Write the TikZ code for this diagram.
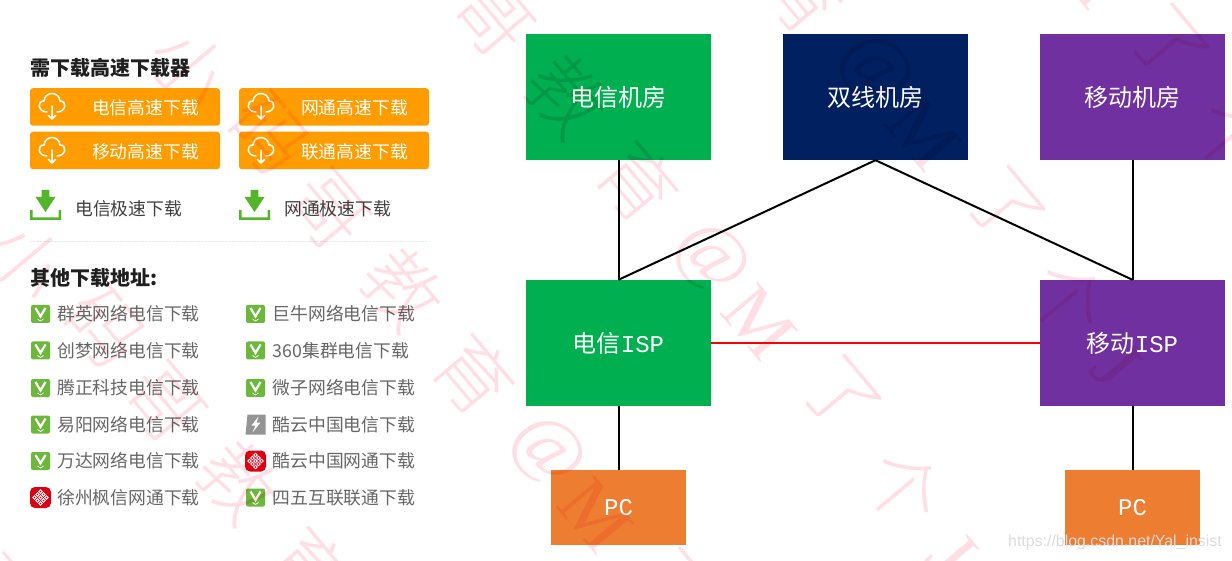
\documentclass[tikz,border=0pt]{standalone}
\usepackage{fontspec}
\usepackage{xcolor}
\usepackage{tikz}
\setmainfont{Noto Sans CJK SC}
\newfontfamily\ispfont{Liberation Mono}
\newfontfamily\urlfont{Liberation Sans}
\newfontfamily\stampcjk{Noto Sans CJK SC Light}
\newfontfamily\stamplat{Liberation Serif}
\definecolor{dxgreen}{HTML}{00B050}
\definecolor{sxnavy}{HTML}{002060}
\definecolor{ydpurple}{HTML}{7030A0}
\definecolor{pcorange}{HTML}{ED7D31}
\definecolor{btnorange}{HTML}{FF9C00}
\definecolor{dlgreen}{HTML}{52B52A}
\definecolor{vgreen}{HTML}{6CB83A}
\definecolor{knotred}{HTML}{DC0012}
\definecolor{stamppink}{HTML}{FFDFE5}
\tikzset{
  room/.style={draw=none,minimum width=185pt,minimum height=126pt,inner sep=0pt,text=white,font=\fontsize{24}{26}\selectfont},
  pcbox/.style={draw=none,fill=pcorange,minimum width=135pt,minimum height=75pt,inner sep=0pt,text=white,font=\fontsize{24}{26}\selectfont},
  btn/.style={fill=btnorange,rounded corners=3pt,minimum width=190pt,minimum height=37.5pt,inner sep=0pt},
  btntext/.style={text=white,inner sep=0pt,font=\fontsize{17.8}{20}\selectfont},
  heading/.style={anchor=west,inner sep=0pt,text=black!88,font=\fontsize{20}{22}\selectfont\bfseries},
  fasttext/.style={anchor=west,inner sep=0pt,text=black!75,font=\fontsize{17.8}{20}\selectfont},
  listtext/.style={anchor=west,inner sep=0pt,text=black!60,font=\fontsize{17.8}{20}\selectfont},
  link/.style={draw=black,line width=2pt},
  redlink/.style={draw=red,line width=2pt},
  stamp/.style={text=stamppink,inner sep=0pt,rotate=-50,font=\fontsize{76}{80}\selectfont},
  cloudicon/.pic={
    \draw[white,line width=1.5pt,line cap=round,line join=round]
      (-5,6) .. controls (-14,6) and (-15.5,-5) .. (-8,-5) .. controls (-7,-15) and (7,-15) .. (8,-5) .. controls (15.5,-5) and (14,6) .. (5,6)
      (0,0) -- (0,13) (-3.5,9.5) -- (0,13) -- (3.5,9.5);
  },
  fasticon/.pic={
    \fill[dlgreen] (-3.8,-15) -- (3.8,-15) -- (3.8,-8) -- (10,-8) -- (0,7) -- (-10,-8) -- (-3.8,-8) -- cycle;
    \fill[dlgreen] (-15.5,5) -- (-13,5) -- (-13,12.5) -- (13,12.5) -- (13,5) -- (15.5,5) -- (15.5,15) -- (-15.5,15) -- cycle;
  },
  vbadge/.pic={
    \fill[vgreen,rounded corners=2pt] (-9.5,-9) rectangle (9.5,9);
    \draw[white,line width=2.2pt] (-5,-6) -- (0,2.5) -- (5,-6);
    \draw[white,line width=.8pt] (-3,5) -- (0,7) -- (3,5);
  },
  greybadge/.pic={
    \fill[black!42] (-8,-10) -- (10,-10) -- (10,10) -- (-10,10) -- cycle;
    \fill[white] (3,-8) -- (-4,1) -- (0,1) -- (-3,8) -- (5,-2) -- (1,-2) -- cycle;
  },
  redbadge/.pic={
    \fill[knotred,rounded corners=5pt] (-10.5,-10.5) rectangle (10.5,10.5);
    \foreach \a/\b in {0/-6,-3/-3,3/-3,-6/0,0/0,6/0,-3/3,3/3,0/6}
      \draw[white,line width=.8pt] (\a,\b-1.8) -- (\a+1.8,\b) -- (\a,\b+1.8) -- (\a-1.8,\b) -- cycle;
  }
}
\begin{document}
\begin{tikzpicture}[x=1pt,y=-1pt]
  \useasboundingbox (0,0) rectangle (1232,561);
  % left panel
  \node[heading] (title1) at (30,68) {需下载高速下载器};
  \node[btn] (b1) at (125,107) {};
  \node[btn] (b2) at (334,107) {};
  \node[btn] (b3) at (125,150.5) {};
  \node[btn] (b4) at (334,150.5) {};
  \node[btntext] (t1) at (145.5,108) {电信高速下载};
  \node[btntext] (t2) at (354.5,108) {网通高速下载};
  \node[btntext] (t3) at (145.5,152) {移动高速下载};
  \node[btntext] (t4) at (354.5,152) {联通高速下载};
  \pic at (52,106) {cloudicon};
  \pic at (261,106) {cloudicon};
  \pic at (52,150) {cloudicon};
  \pic at (261,150) {cloudicon};
  \pic at (45.5,205) {fasticon};
  \pic at (254.5,205) {fasticon};
  \node[fasttext] (f1) at (75,209) {电信极速下载};
  \node[fasttext] (f2) at (284,209) {网通极速下载};
  \draw[black!8,densely dotted] (30,241) -- (430,241);
  \node[heading] (title2) at (30,278) {其他下载地址:};
  \foreach \ly/\ltext/\licon/\rtext/\ricon [count=\i] in {
    314/群英网络电信下载/vbadge/巨牛网络电信下载/vbadge,
    350.5/创梦网络电信下载/vbadge/360集群电信下载/vbadge,
    388/腾正科技电信下载/vbadge/微子网络电信下载/vbadge,
    424.5/易阳网络电信下载/vbadge/酷云中国电信下载/greybadge,
    461/万达网络电信下载/vbadge/酷云中国网通下载/redbadge,
    497.5/徐州枫信网通下载/redbadge/四五互联联通下载/vbadge} {
    \pic at (40.5,\ly) {\licon};
    \pic at (255.5,\ly) {\ricon};
    \node[listtext] (la\i) at (57,\ly) {\ltext};
    \node[listtext] (lb\i) at (272.5,\ly) {\rtext};
  }
  % right panel
  \node[room,fill=dxgreen] (dxroom) at (618.5,97) {电信机房};
  \node[room,fill=sxnavy] (sxroom) at (875.5,97) {双线机房};
  \node[room,fill=ydpurple] (ydroom) at (1132.5,97) {移动机房};
  \node[room,fill=dxgreen] (dxisp) at (618.5,343) {电信{\ispfont ISP}};
  \node[room,fill=ydpurple] (ydisp) at (1132.5,343) {移动{\ispfont ISP}};
  \node[pcbox] (pc1) at (618.5,507.5) {\ispfont PC};
  \node[pcbox] (pc2) at (1132.5,507.5) {\ispfont PC};
  \draw[link] (dxroom) -- (dxisp);
  \draw[link] (ydroom) -- (ydisp);
  \draw[link] (sxroom.south) -- (dxisp.north);
  \draw[link] (sxroom.south) -- (ydisp.north);
  \draw[redlink] (dxisp) -- (ydisp);
  \draw[link] (dxisp) -- (pc1);
  \draw[link] (ydisp) -- (pc2);
  \node[anchor=east,inner sep=0pt,text=black!14,font=\fontsize{15.9}{18}\selectfont\urlfont] (url) at (1222,542) {https://blog.csdn.net/Yal\_insist};
  % stamp
  \begin{scope}[blend mode=multiply]
  \foreach \ax/\ay in {1039/-92,875/70,711/259,547/452,383/645,219/838}
    \foreach \dx/\dy/\ch in {-357/-385/{\stampcjk 小},-278/-318/{\stampcjk 码},-219/-242/{\stampcjk 哥},-144/-163/{\stampcjk 教},-73/-77/{\stampcjk 育},0/0/{\stamplat @},48/63/{\stamplat M},130/138/{\stampcjk 了},193/229/{\stampcjk 个},241/296/{\stamplat J}} {
      \pgfmathtruncatemacro\onpage{and(and(\ax+\dx>-50,\ax+\dx<1280),and(\ay+\dy>-50,\ay+\dy<610))}
      \ifnum\onpage=1 \node[stamp] at (\ax+\dx,\ay+\dy) {\ch}; \fi
    }
  \end{scope}
\end{tikzpicture}
\end{document}
